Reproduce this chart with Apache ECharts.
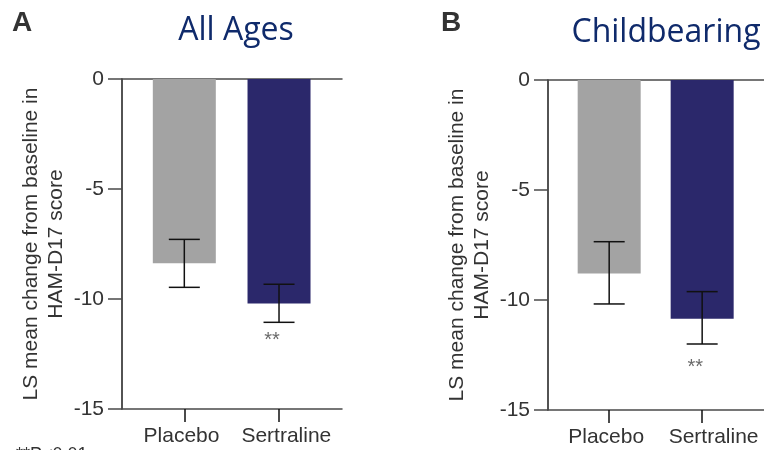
<!DOCTYPE html>
<html>
<head>
<meta charset="utf-8">
<script src="https://cdn.jsdelivr.net/npm/echarts@6/dist/echarts.min.js"></script>
<style>
  html, body { margin: 0; padding: 0; background: #fff; }
  #main { width: 764px; height: 450px; }
</style>
</head>
<body>
<div id="main"></div>
<script>
// 数据
const categories = ['Placebo', 'Sertraline'];
const yTicks = [0, -5, -10, -15];

const allAgesMean = [-8.38, -10.2];
const allAgesLow = [-9.47, -11.06];
const allAgesHigh = [-7.29, -9.33];
const allAgesSig = [null, -11.64];

const childMean = [-8.8, -10.85];
const childLow = [-10.18, -12.0];
const childHigh = [-7.35, -9.62];
const childSig = [null, -12.86];

const barColors = ['#a3a3a3', '#2b286b'];
const yName = 'LS mean change from baseline in\nHAM-D17 score';
const axisFont = 'Liberation Sans, Arial, sans-serif';

let myChart = echarts.init(document.getElementById('main'));

function panel(idx, mean, low, high, sig, labelPos) {
    const xBase = {
        gridIndex: idx,
        type: 'value',
        min: 0.342,
        max: 2.665,
        splitLine: { show: false }
    };
    const xAxis = [
        Object.assign({}, xBase, {
            position: 'bottom',
            axisLine: { show: true, onZero: false, lineStyle: { color: '#4a4a4a', width: 1.5 } },
            axisTick: { show: true, length: 13, customValues: [1, 2], lineStyle: { color: '#111', width: 1.5 } },
            axisLabel: {
                show: true,
                customValues: labelPos,
                margin: 17,
                fontSize: 21,
                fontFamily: axisFont,
                color: '#333',
                formatter: v => categories[Math.round(v) - 1]
            }
        }),
        Object.assign({}, xBase, {
            position: 'top',
            axisLine: { show: true, onZero: false, lineStyle: { color: '#4a4a4a', width: 1.5 } },
            axisTick: { show: false },
            axisLabel: { show: false }
        })
    ];
    const yAxis = {
        gridIndex: idx,
        type: 'value',
        min: yTicks[yTicks.length - 1],
        max: yTicks[0],
        interval: 5,
        name: yName,
        nameLocation: 'middle',
        nameGap: 53,
        nameTextStyle: { fontSize: 21, fontFamily: axisFont, color: '#333', lineHeight: 25 },
        axisLine: { show: true, onZero: false, lineStyle: { color: '#1a1a1a', width: 1.5 } },
        axisTick: { show: true, length: 14, lineStyle: { color: '#4a4a4a', width: 1.5 } },
        axisLabel: { margin: 18, fontSize: 21, fontFamily: axisFont, color: '#333' },
        splitLine: { show: false }
    };
    const series = [
        {
            type: 'bar',
            xAxisIndex: idx * 2,
            yAxisIndex: idx,
            barWidth: 63,
            data: mean.map((v, i) => ({ value: [i + 1, v], itemStyle: { color: barColors[i] } }))
        },
        {
            type: 'custom',
            xAxisIndex: idx * 2,
            yAxisIndex: idx,
            data: mean.map((v, i) => [i + 1, low[i], high[i]]),
            renderItem: function (params, api) {
                const x = api.value(0);
                const pLo = api.coord([x, api.value(1)]);
                const pHi = api.coord([x, api.value(2)]);
                const hw = 15.5;
                const style = { stroke: '#111', lineWidth: 1.5 };
                return {
                    type: 'group',
                    children: [
                        { type: 'line', shape: { x1: pHi[0], y1: pHi[1], x2: pLo[0], y2: pLo[1] }, style: style },
                        { type: 'line', shape: { x1: pHi[0] - hw, y1: pHi[1], x2: pHi[0] + hw, y2: pHi[1] }, style: style },
                        { type: 'line', shape: { x1: pLo[0] - hw, y1: pLo[1], x2: pLo[0] + hw, y2: pLo[1] }, style: style }
                    ]
                };
            },
            z: 5
        },
        {
            type: 'scatter',
            xAxisIndex: idx * 2,
            yAxisIndex: idx,
            symbolSize: 0,
            data: sig.map((v, i) => v === null ? null : [i + 1, v]).filter(d => d),
            label: {
                show: true,
                position: 'inside',
                offset: [-7, 5],
                formatter: '**',
                fontSize: 20,
                fontFamily: axisFont,
                color: '#444'
            }
        }
    ];
    return { xAxis, yAxis, series };
}

const pA = panel(0, allAgesMean, allAgesLow, allAgesHigh, allAgesSig, [0.97, 2.077]);
const pB = panel(1, childMean, childLow, childHigh, childSig, [0.968, 2.123]);

const titleStyle = { fontFamily: 'Open Sans, sans-serif', fontSize: 32, fontWeight: 'normal', color: '#0f2a6b' };
const letterStyle = { fontFamily: axisFont, fontSize: 28, fontWeight: 'bold', color: '#333' };

myChart.setOption({
    animation: false,
    title: [
        { text: 'A', left: 12, top: 9, textStyle: letterStyle, padding: 0 },
        { text: 'B', left: 441, top: 9, textStyle: letterStyle, padding: 0 },
        { text: 'All Ages', left: 236, top: 15, textAlign: 'center', textStyle: titleStyle, padding: 0 },
        { text: 'Childbearing', left: 666, top: 17, textAlign: 'center', textStyle: titleStyle, padding: 0 },
        { text: '**P<0.01', left: 16, top: 446, textStyle: { fontFamily: axisFont, fontSize: 18, fontWeight: 'normal', color: '#333' }, padding: 0 }
    ],
    grid: [
        { left: 122, width: 220, top: 79, height: 330 },
        { left: 548, width: 220, top: 80, height: 330 }
    ],
    xAxis: pA.xAxis.concat(pB.xAxis),
    yAxis: [pA.yAxis, pB.yAxis],
    series: pA.series.concat(pB.series)
});
</script>
</body>
</html>
